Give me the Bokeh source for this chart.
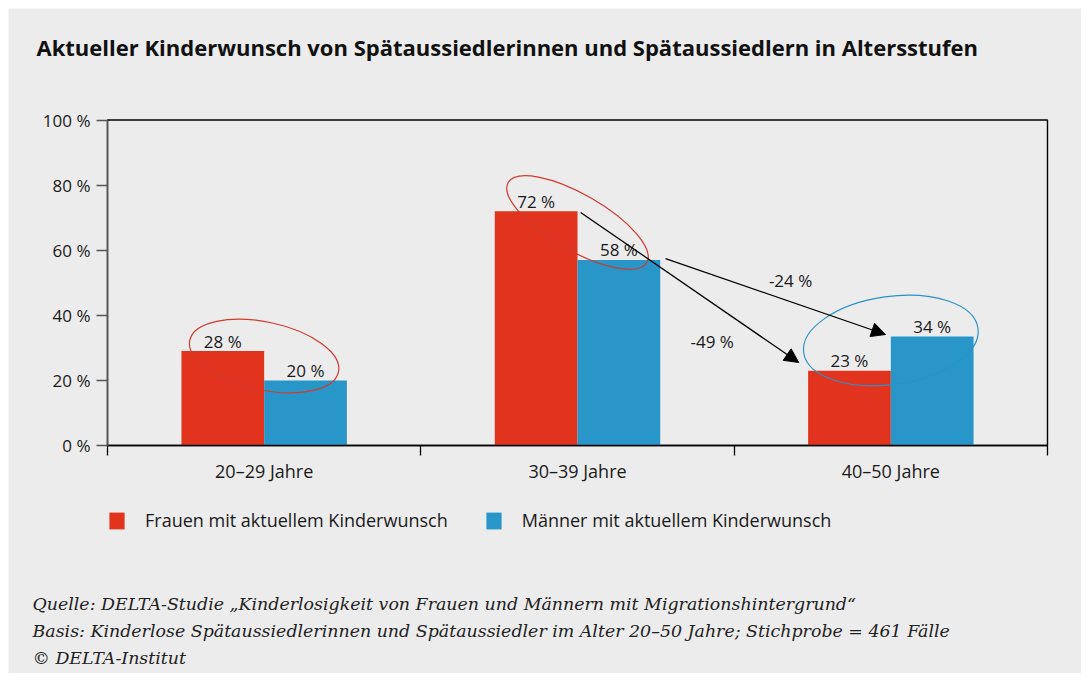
from bokeh.plotting import figure
from bokeh.models import (Range1d, FixedTicker, Label, Legend, LegendItem, Arrow,
                          NormalHead, ColumnDataSource, BoxAnnotation)
from bokeh.core.properties import value
from bokeh.embed import file_html
from bokeh.resources import INLINE
import math

# ---------------- data ----------------
categories = ["20–29 Jahre", "30–39 Jahre", "40–50 Jahre"]
frauen = [29, 72, 23]
maenner = [20, 57, 33.5]
frauen_labels = ["28 %", "72 %", "23 %"]
maenner_labels = ["20 %", "58 %", "34 %"]
series_names = ["Frauen mit aktuellem Kinderwunsch", "Männer mit aktuellem Kinderwunsch"]
y_ticks = [0, 20, 40, 60, 80, 100]
y_tick_labels = ["0 %", "20 %", "40 %", "60 %", "80 %", "100 %"]
change_labels = ["-49 %", "-24 %"]

title_text = "Aktueller Kinderwunsch von Spätaussiedlerinnen und Spätaussiedlern in Altersstufen"
footer_lines = [
    "Quelle: DELTA-Studie „Kinderlosigkeit von Frauen und Männern mit Migrationshintergrund“",
    "Basis: Kinderlose Spätaussiedlerinnen und Spätaussiedler im Alter 20–50 Jahre; Stichprobe = 461 Fälle",
    "© DELTA-Institut",
]

# ---------------- style ----------------
RED = "#e1331e"
BLUE = "#2896c8"
BG = "#ececec"
TXT = "#1a1a1a"
SANS = "Open Sans"
SERIF = "DejaVu Serif"

W, H = 1073, 665
# plot box inside the canvas (pixels from the canvas left / top)
BOX_L, BOX_R, BOX_T, BOX_B = 99, 1039, 111.5, 437
ncat = len(categories)
px_x = (BOX_R - BOX_L) / ncat
px_y = (BOX_B - BOX_T) / 100.0
x_range = Range1d(-BOX_L / px_x, ncat + (W - BOX_R) / px_x)
y_range = Range1d(-(H - BOX_B) / px_y, 100 + BOX_T / px_y)

p = figure(width=W, height=H, output_backend="svg", toolbar_location=None,
           x_range=x_range, y_range=y_range,
           min_border_left=0, min_border_right=0, min_border_top=0, min_border_bottom=0,
           background_fill_color=BG, border_fill_color=BG, outline_line_color=None)
p.margin = (8, 8, 8, 8)
p.xgrid.visible = False
p.ygrid.visible = False

# chart box (top and right border)
p.add_layout(BoxAnnotation(left=0, right=ncat, bottom=0, top=100, fill_alpha=0,
                           line_color="black", line_alpha=1.0, line_width=1.4,
                           level="underlay"))

centers = [i + 0.5 for i in range(ncat)]
bw = 0.264
src_f = ColumnDataSource(dict(x=[c - bw / 2 for c in centers], top=frauen, label=frauen_labels))
src_m = ColumnDataSource(dict(x=[c + bw / 2 for c in centers], top=maenner, label=maenner_labels))

rf = p.vbar(x="x", top="top", bottom=0, width=bw, source=src_f, fill_color=RED, line_color=None)
rm = p.vbar(x="x", top="top", bottom=0, width=bw, source=src_m, fill_color=BLUE, line_color=None)

for src in (src_f, src_m):
    p.text(x="x", y="top", text="label", source=src, text_font=value(SANS),
           text_font_size="17px", text_align="center", text_baseline="alphabetic",
           y_offset=-10, text_color=TXT)

# ellipses around groups
p.ellipse(x=[centers[0], centers[1], centers[2]],
          y=[(frauen[0] + maenner[0]) / 2 + 3, (frauen[1] + maenner[1]) / 2 + 4,
             (frauen[2] + maenner[2]) / 2 + 4],
          width=[152, 160, 176], height=[68, 56, 88],
          angle=[math.radians(-12), math.radians(-30), math.radians(8)],
          width_units="screen", height_units="screen",
          fill_color=None, line_color=["#d23a2e", "#d23a2e", "#2a92c8"], line_width=1.2)

# arrows
p.add_layout(Arrow(end=NormalHead(size=14, fill_color="black", line_color="black"),
                   x_start=centers[1] + 0.01, y_start=frauen[1] - 0.4,
                   x_end=centers[2] - bw - 0.03, y_end=frauen[2] + 2.5,
                   line_color="black", line_width=1.3))
p.add_layout(Arrow(end=NormalHead(size=14, fill_color="black", line_color="black"),
                   x_start=centers[1] + bw + 0.017, y_start=maenner[1] + 0.4,
                   x_end=centers[2] - 0.017, y_end=maenner[2] + 0.6,
                   line_color="black", line_width=1.3))
p.add_layout(Label(x=1.93, y=32.1, text=change_labels[0], text_font=SANS,
                   text_font_size="17px", text_align="center", text_baseline="middle",
                   text_color=TXT))
p.add_layout(Label(x=2.18, y=50.6, text=change_labels[1], text_font=SANS,
                   text_font_size="17px", text_align="center", text_baseline="middle",
                   text_color=TXT))

# axes (drawn at the box edges)
xa = p.xaxis[0]
xa.fixed_location = 0
xa.bounds = (0, ncat)
xa.ticker = FixedTicker(ticks=centers, minor_ticks=list(range(ncat + 1)))
xa.major_label_overrides = {c: lab for c, lab in zip(centers, categories)}
xa.major_tick_out = 0
xa.major_tick_in = 0
xa.minor_tick_out = 10
xa.minor_tick_in = 0
xa.minor_tick_line_color = "black"
xa.minor_tick_line_width = 1.3
xa.axis_line_color = "black"
xa.axis_line_width = 1.3
xa.major_label_standoff = 3
xa.major_label_text_font = SANS
xa.major_label_text_font_size = "18px"
xa.major_label_text_color = TXT

ya = p.yaxis[0]
ya.fixed_location = 0
ya.bounds = (0, 100)
ya.ticker = FixedTicker(ticks=y_ticks, minor_ticks=[])
ya.major_label_overrides = {t: lab for t, lab in zip(y_ticks, y_tick_labels)}
ya.major_tick_out = 11
ya.major_tick_in = 0
ya.major_tick_line_color = "#555555"
ya.major_tick_line_width = 1.3
ya.axis_line_color = "#555555"
ya.axis_line_width = 1.5
ya.major_label_standoff = 6
ya.major_label_text_font = SANS
ya.major_label_text_font_size = "17px"
ya.major_label_text_color = TXT

# legend
legend = Legend(items=[LegendItem(label=series_names[0], renderers=[rf]),
                       LegendItem(label=series_names[1], renderers=[rm])],
                orientation="horizontal", location=(99, 141),
                glyph_width=19, glyph_height=21, label_standoff=19, spacing=36,
                padding=0, margin=0, border_line_color=None, background_fill_alpha=0,
                label_text_font=SANS, label_text_font_size="18px",
                label_text_color=TXT)
p.add_layout(legend)

# title and footer (screen units from the canvas bottom-left)
p.add_layout(Label(x=28, y=626.5, x_units="screen", y_units="screen", text=title_text,
                   text_font=SANS, text_font_style="bold", text_font_size="22px",
                   text_color="#111111", text_baseline="alphabetic"))
for i, line in enumerate(footer_lines):
    p.add_layout(Label(x=24, y=70 - 27 * i, x_units="screen", y_units="screen",
                       text=line, text_font=SERIF, text_font_style="italic",
                       text_font_size="17.4px", text_color="#222222",
                       text_baseline="alphabetic"))

open("out.html", "w").write(file_html(p, INLINE))
